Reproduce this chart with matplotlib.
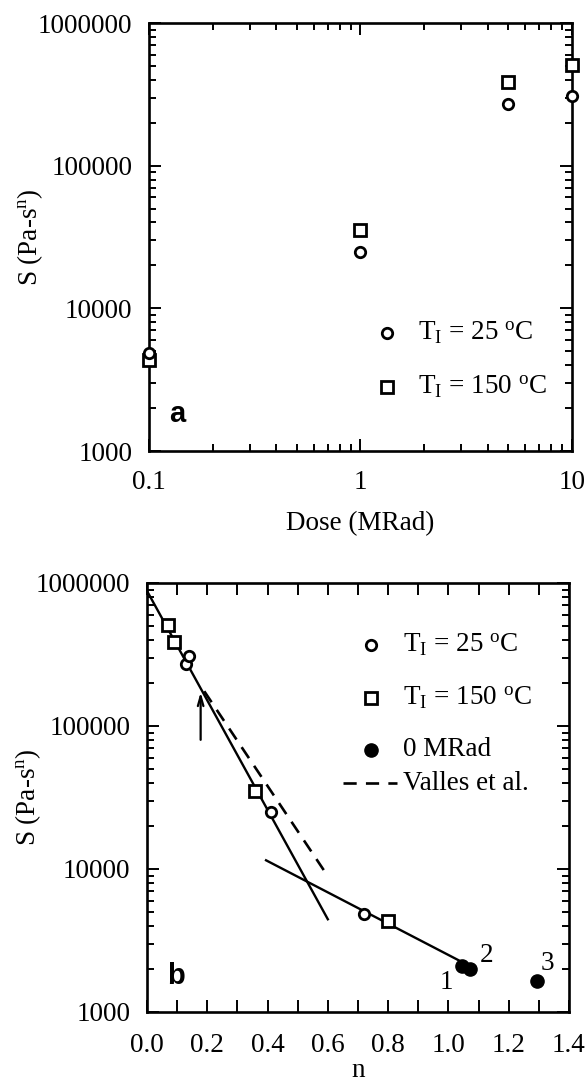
import numpy as np
import matplotlib
matplotlib.use('Agg')
import matplotlib.pyplot as plt
from matplotlib.ticker import FuncFormatter, LogLocator, NullFormatter

plt.rcParams['font.family'] = ['Liberation Serif', 'DejaVu Serif']
plt.rcParams['mathtext.fontset'] = 'custom'
plt.rcParams['mathtext.rm'] = 'Liberation Serif'
plt.rcParams['mathtext.it'] = 'Liberation Serif:italic'

# data
dose = [0.1, 1, 5, 10]
s_25 = [4850, 25000, 270000, 310000]
s_150 = [4350, 35300, 387000, 510000]

n_25 = [0.72, 0.41, 0.13, 0.14]
n_150 = [0.80, 0.36, 0.09, 0.07]

n_0mrad = [1.045, 1.072, 1.295]
s_0mrad = [2100, 2000, 1650]
labels_0mrad = ['1', '2', '3']
label_n = [0.994, 1.128, 1.327]
label_s = [1600, 2470, 2180]

fit1_n = [0.0, 0.60]
fit1_s = [880000, 4450]
fit2_n = [0.395, 1.055]
fit2_s = [11500, 2180]
valles_n = [0.19, 0.60]
valles_s = [175000, 8900]

arrow_n = 0.178
arrow_s = [80000, 172000]

FS = 19.5
lab_25 = r'T$_\mathrm{I}$ = 25 $^\mathrm{o}$C'
lab_150 = r'T$_\mathrm{I}$ = 150 $^\mathrm{o}$C'

fig = plt.figure(figsize=(5.87, 10.85), dpi=100)
ax1 = fig.add_axes([0.2538, 0.5843, 0.7206, 0.3945])
ax2 = fig.add_axes([0.2504, 0.0673, 0.7189, 0.3954])

open_o = dict(marker='o', ms=7.5, mfc='white', mec='black', mew=2, ls='none')
open_s = dict(marker='s', ms=8.5, mfc='white', mec='black', mew=2, ls='none')
full_o = dict(marker='o', ms=9.5, color='black', ls='none')


def style_axes(ax, xpad):
    for sp in ax.spines.values():
        sp.set_linewidth(1.9)
    ax.tick_params(which='both', direction='in', top=True, right=True,
                   labelsize=FS, width=1.4)
    ax.tick_params(which='major', length=8.5)
    ax.tick_params(which='minor', length=5)
    ax.tick_params(axis='x', which='both', pad=xpad)
    ax.tick_params(axis='y', which='both', pad=12)
    ax.set_yscale('log')
    ax.set_ylim(1000, 1e6)
    ax.yaxis.set_major_formatter(FuncFormatter(lambda v, p: '%d' % round(v)))
    ax.yaxis.set_minor_locator(LogLocator(base=10, subs=np.arange(2, 10)))
    ax.yaxis.set_minor_formatter(NullFormatter())
    ax.set_ylabel(r'S (Pa-s$^\mathrm{n}$)', fontsize=FS, labelpad=-5)


# ---- panel a ----
style_axes(ax1, 14)
ax1.set_xscale('log')
ax1.set_xlim(0.1, 10)
ax1.xaxis.set_major_formatter(FuncFormatter(lambda v, p: '%g' % v))
ax1.xaxis.set_minor_locator(LogLocator(base=10, subs=np.arange(2, 10)))
ax1.xaxis.set_minor_formatter(NullFormatter())

ax1.plot(dose, s_25, clip_on=False, zorder=5, **open_o)
ax1.plot(dose, s_150, clip_on=False, zorder=4, **open_s)
ax1.set_xlabel('Dose (MRad)', fontsize=FS, labelpad=11)

# legend a
ax1.plot([0.562], [0.276], transform=ax1.transAxes, **open_o)
ax1.text(0.637, 0.276, lab_25, fontsize=FS, va='center', transform=ax1.transAxes)
ax1.plot([0.562], [0.150], transform=ax1.transAxes, **open_s)
ax1.text(0.637, 0.150, lab_150, fontsize=FS, va='center', transform=ax1.transAxes)
ax1.text(0.068, 0.086, 'a', fontsize=21, fontweight='bold',
         family='Liberation Sans', ha='center', va='center',
         transform=ax1.transAxes)

# ---- panel b ----
style_axes(ax2, 15)
ax2.set_xlim(0, 1.4)
ax2.set_xticks(np.round(np.arange(0, 1.41, 0.1), 1))
ax2.xaxis.set_major_formatter(FuncFormatter(
    lambda v, p: '%.1f' % v if round(v * 10) % 2 == 0 else ''))

ax2.plot(fit1_n, fit1_s, '-', color='black', lw=1.7)
ax2.plot(fit2_n, fit2_s, '-', color='black', lw=1.7)
ax2.plot(valles_n, valles_s, color='black', lw=1.9, linestyle=(0, (5, 3.5)))
ax2.plot(n_25, s_25, zorder=5, **open_o)
ax2.plot(n_150, s_150, zorder=4, **open_s)
ax2.plot(n_0mrad, s_0mrad, zorder=6, **full_o)
for t, x, y in zip(labels_0mrad, label_n, label_s):
    ax2.text(x, y, t, fontsize=FS, ha='center', va='center')

ax2.annotate('', xy=(arrow_n, arrow_s[1]), xytext=(arrow_n, arrow_s[0]),
             arrowprops=dict(arrowstyle='->,head_length=0.7,head_width=0.2',
                             color='black', lw=1.6, shrinkA=0, shrinkB=0))

ax2.set_xlabel('n', fontsize=FS, labelpad=0)

# legend b
ax2.plot([0.532], [0.855], transform=ax2.transAxes, **open_o)
ax2.text(0.607, 0.855, lab_25, fontsize=FS, va='center', transform=ax2.transAxes)
ax2.plot([0.532], [0.731], transform=ax2.transAxes, **open_s)
ax2.text(0.607, 0.731, lab_150, fontsize=FS, va='center', transform=ax2.transAxes)
ax2.plot([0.532], [0.611], transform=ax2.transAxes, **full_o)
ax2.text(0.607, 0.611, '0 MRad', fontsize=FS, va='center', transform=ax2.transAxes)
ax2.plot([0.464, 0.592], [0.533, 0.533], color='black', lw=1.9,
         linestyle=(0, (5, 3.5)), transform=ax2.transAxes)
ax2.text(0.607, 0.533, 'Valles et al.', fontsize=FS, va='center',
         transform=ax2.transAxes)
ax2.text(0.069, 0.084, 'b', fontsize=21, fontweight='bold',
         family='Liberation Sans', ha='center', va='center',
         transform=ax2.transAxes)

fig.savefig('out.png', dpi=100)
